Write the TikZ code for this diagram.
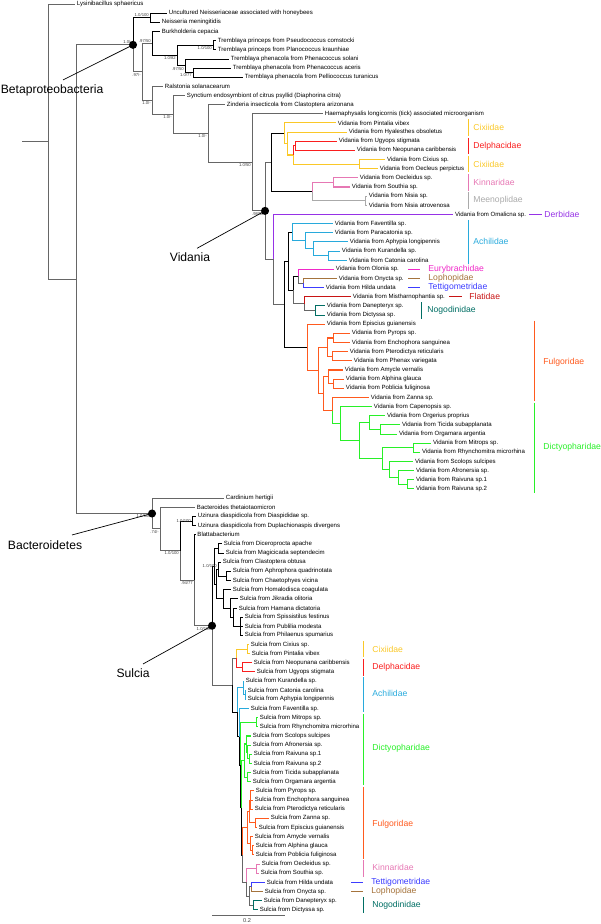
\documentclass[tikz,border=0pt]{standalone}
\usepackage{fontspec}
\setmainfont{Liberation Sans}
\usetikzlibrary{calc,positioning}
\definecolor{cixcol}{RGB}{250,200,40}
\definecolor{delcol}{RGB}{250,30,30}
\definecolor{kincol}{RGB}{230,120,180}
\definecolor{meecol}{RGB}{170,170,170}
\definecolor{dercol}{RGB}{150,50,230}
\definecolor{achcol}{RGB}{40,170,220}
\definecolor{eurcol}{RGB}{240,40,200}
\definecolor{lopcol}{RGB}{165,115,60}
\definecolor{tetcol}{RGB}{60,60,255}
\definecolor{flacol}{RGB}{200,20,20}
\definecolor{nogcol}{RGB}{0,110,100}
\definecolor{fulcol}{RGB}{255,90,30}
\definecolor{diccol}{RGB}{40,240,40}
% clade point: x in px, y half way between the two outer children
\newcommand{\clade}[4]{\path let \p1=(#3), \p2=(#4) in ({#2*0.02cm},{(\y1+\y2)/2}) coordinate (#1);}

\begin{document}
\begin{tikzpicture}[x=0.02cm,y=-0.183cm,
  lf/.style={anchor=west,inner sep=0.9pt,font=\fontsize{3.45}{4}\selectfont},
  sv/.style={font=\fontsize{2.4}{2.8}\selectfont,text=black!75,inner sep=0.5pt},
  fam/.style={anchor=west,inner sep=0pt,font=\fontsize{4.9}{5.5}\selectfont},
  big/.style={inner sep=0pt,font=\fontsize{6.9}{8}\selectfont},
  graybr/.style={draw=black!60,line width=0.55pt},
  blackbr/.style={draw=black,line width=0.4pt},
  cixbr/.style={draw=cixcol,line width=0.6pt},
  delbr/.style={draw=delcol,line width=0.6pt},
  kinbr/.style={draw=kincol,line width=0.6pt},
  meebr/.style={draw=meecol,line width=0.6pt},
  derbr/.style={draw=dercol,line width=0.6pt},
  achbr/.style={draw=achcol,line width=0.6pt},
  eurbr/.style={draw=eurcol,line width=0.6pt},
  lopbr/.style={draw=lopcol,line width=0.6pt},
  tetbr/.style={draw=tetcol,line width=0.6pt},
  flabr/.style={draw=flacol,line width=0.6pt},
  nogbr/.style={draw=nogcol,line width=0.6pt},
  fulbr/.style={draw=fulcol,line width=0.6pt},
  dicbr/.style={draw=diccol,line width=0.6pt}]
\useasboundingbox (0,0.5628) rectangle (600,101.55);

% leaves
\node[lf] (l1) at (75,1) {Lysinibacillus sphaericus};
\node[lf] (l2) at (167,2) {Uncultured Neisseriaceae associated with honeybees};
\node[lf] (l3) at (160,3) {Neisseria meningitidis};
\node[lf] (l4) at (160,4) {Burkholderia cepacia};
\node[lf] (l5) at (216,5) {Tremblaya princeps from Pseudococcus comstocki};
\node[lf] (l6) at (216,6) {Tremblaya princeps from Planococcus kraunhiae};
\node[lf] (l7) at (229,7) {Tremblaya phenacola from Phenacoccus solani};
\node[lf] (l8) at (231,8) {Tremblaya phenacola from Phenacoccus aceris};
\node[lf] (l9) at (243,9) {Tremblaya phenacola from Pelliococcus turanicus};
\node[lf] (l10) at (163,10) {Ralstonia solanacearum};
\node[lf] (l11) at (185,11) {Synctium endosymbiont of citrus psyllid (Diaphorina citra)};
\node[lf] (l12) at (225,12) {Zinderia insecticola from Clastoptera arizonana};
\node[lf] (l13) at (323,13) {Haemaphysalis longicornis (tick) associated microorganism};
\node[lf] (l14) at (336,14) {Vidania from Pintalia vibex};
\node[lf] (l15) at (347,15) {Vidania from Hyalesthes obsoletus};
\node[lf] (l16) at (337,16) {Vidania from Ugyops stigmata};
\node[lf] (l17) at (355,17) {Vidania from Neopunana caribbensis};
\node[lf] (l18) at (385,18) {Vidania from Cixius sp.};
\node[lf] (l19) at (378,19) {Vidania from Oecleus perpictus};
\node[lf] (l20) at (358,20) {Vidania from Oecleidus sp.};
\node[lf] (l21) at (350,21) {Vidania from Southia sp.};
\node[lf] (l22) at (367,22) {Vidania from Nisia sp.};
\node[lf] (l23) at (367,23) {Vidania from Nisia atrovenosa};
\node[lf] (l24) at (453,24) {Vidania from Omalicna sp.};
\node[lf] (l25) at (333,25) {Vidania from Faventilla sp.};
\node[lf] (l26) at (333,26) {Vidania from Paracatonia sp.};
\node[lf] (l27) at (348,27) {Vidania from Aphypia longipennis};
\node[lf] (l28) at (340,28) {Vidania from Kurandella sp.};
\node[lf] (l29) at (347,29) {Vidania from Catonia carolina};
\node[lf] (l30) at (334,30) {Vidania from Olonia sp.};
\node[lf] (l31) at (337,31) {Vidania from Onycta sp.};
\node[lf] (l32) at (324,32) {Vidania from Hilda undata};
\node[lf] (l33) at (351,33) {Vidania from Mistharnophantia sp.};
\node[lf] (l34) at (325,34) {Vidania from Danepteryx sp.};
\node[lf] (l35) at (325,35) {Vidania from Dictyssa sp.};
\node[lf] (l36) at (325,36) {Vidania from Episcius guianensis};
\node[lf] (l37) at (350,37) {Vidania from Pyrops sp.};
\node[lf] (l38) at (350,38) {Vidania from Enchophora sanguinea};
\node[lf] (l39) at (348,39) {Vidania from Pterodictya reticularis};
\node[lf] (l40) at (352,40) {Vidania from Phenax variegata};
\node[lf] (l41) at (343,41) {Vidania from Amycle vernalis};
\node[lf] (l42) at (344,42) {Vidania from Alphina glauca};
\node[lf] (l43) at (344,43) {Vidania from Poblicia fuliginosa};
\node[lf] (l44) at (369,44) {Vidania from Zanna sp.};
\node[lf] (l45) at (372,45) {Vidania from Capenopsis sp.};
\node[lf] (l46) at (385,46) {Vidania from Orgerius proprius};
\node[lf] (l47) at (400,47) {Vidania from Ticida subapplanata};
\node[lf] (l48) at (397,48) {Vidania from Orgamara argentia};
\node[lf] (l49) at (431,49) {Vidania from Mitrops sp.};
\node[lf] (l50) at (420,50) {Vidania from Rhynchomitra microrhina};
\node[lf] (l51) at (413,51) {Vidania from Scolops sulcipes};
\node[lf] (l52) at (414,52) {Vidania from Afronersia sp.};
\node[lf] (l53) at (414,53) {Vidania from Raivuna sp.1};
\node[lf] (l54) at (414,54) {Vidania from Raivuna sp.2};
\node[lf] (l55) at (224,55) {Cardinium hertigii};
\node[lf] (l56) at (195,56) {Bacteroides thetaiotaomicron};
\node[lf] (l57) at (196,57) {Uzinura diaspidicola from Diaspididae sp.};
\node[lf] (l58) at (196,58) {Uzinura diaspidicola from Duplachionaspis divergens};
\node[lf] (l59) at (195.5,59) {Blattabacterium};
\node[lf] (l60) at (222,60) {Sulcia from Diceroprocta apache};
\node[lf] (l61) at (224,61) {Sulcia from Magicicada septendecim};
\node[lf] (l62) at (221,62) {Sulcia from Clastoptera obtusa};
\node[lf] (l63) at (231,63) {Sulcia from Aphrophora quadrinotata};
\node[lf] (l64) at (231,64) {Sulcia from Chaetophyes vicina};
\node[lf] (l65) at (231,65) {Sulcia from Homalodisca coagulata};
\node[lf] (l66) at (238,66) {Sulcia from Jikradia olitoria};
\node[lf] (l67) at (237,67) {Sulcia from Hamana dictatoria};
\node[lf] (l68) at (243,68) {Sulcia from Spissistilus festinus};
\node[lf] (l69) at (243,69) {Sulcia from Publilia modesta};
\node[lf] (l70) at (243,70) {Sulcia from Philaenus spumarius};
\node[lf] (l71) at (249,71) {Sulcia from Cixius sp.};
\node[lf] (l72) at (250,72) {Sulcia from Pintalia vibex};
\node[lf] (l73) at (252,73) {Sulcia from Neopunana caribbensis};
\node[lf] (l74) at (255,74) {Sulcia from Ugyops stigmata};
\node[lf] (l75) at (244,75) {Sulcia from Kurandella sp.};
\node[lf] (l76) at (246,76) {Sulcia from Catonia carolina};
\node[lf] (l77) at (246,77) {Sulcia from Aphypia longipennis};
\node[lf] (l78) at (249,78) {Sulcia from Faventilla sp.};
\node[lf] (l79) at (258,79) {Sulcia from Mitrops sp.};
\node[lf] (l80) at (258,80) {Sulcia from Rhynchomitra microrhina};
\node[lf] (l81) at (251,81) {Sulcia from Scolops sulcipes};
\node[lf] (l82) at (251,82) {Sulcia from Afronersia sp.};
\node[lf] (l83) at (252,83) {Sulcia from Raivuna sp.1};
\node[lf] (l84) at (252,84) {Sulcia from Raivuna sp.2};
\node[lf] (l85) at (251,85) {Sulcia from Ticida subapplanata};
\node[lf] (l86) at (251,86) {Sulcia from Orgamara argentia};
\node[lf] (l87) at (254,87) {Sulcia from Pyrops sp.};
\node[lf] (l88) at (253,88) {Sulcia from Enchophora sanguinea};
\node[lf] (l89) at (253,89) {Sulcia from Pterodictya reticularis};
\node[lf] (l90) at (269,90) {Sulcia from Zanna sp.};
\node[lf] (l91) at (257,91) {Sulcia from Episcius guianensis};
\node[lf] (l92) at (253,92) {Sulcia from Amycle vernalis};
\node[lf] (l93) at (254,93) {Sulcia from Alphina glauca};
\node[lf] (l94) at (254,94) {Sulcia from Poblicia fuliginosa};
\node[lf] (l95) at (260,95) {Sulcia from Oecleidus sp.};
\node[lf] (l96) at (259,96) {Sulcia from Southia sp.};
\node[lf] (l97) at (265,97) {Sulcia from Hilda undata};
\node[lf] (l98) at (263,98) {Sulcia from Onycta sp.};
\node[lf] (l99) at (262,99) {Sulcia from Danepteryx sp.};
\node[lf] (l100) at (258,100) {Sulcia from Dictyssa sp.};

% Betaproteobacteria clades
\clade{neis}{150}{l2}{l3}
\clade{tp}{213}{l5}{l6}
\clade{tphb}{193}{l8}{l9}
\clade{tph}{185}{l7}{tphb}
\clade{trem}{177}{tp}{tph}
\clade{bt}{152}{l4}{trem}
% Vidania clades
\clade{cixo}{359}{l18}{l19}
\clade{delph}{295}{l16}{l17}
\clade{cixc}{293}{delph}{cixo}
\clade{cixb}{287}{l15}{cixc}
\clade{cixa}{284}{l14}{cixb}
\clade{kinn}{333}{l20}{l21}
\clade{meen}{365}{l22}{l23}
\clade{km}{312}{kinn}{meen}
\clade{va}{271}{cixa}{km}
\clade{achd}{328}{l28}{l29}
\clade{achc}{313}{l27}{achd}
\clade{achb}{305}{l26}{achc}
\clade{acha}{292}{l25}{achb}
\clade{lt}{303}{l31}{l32}
\clade{el}{298}{l30}{lt}
\clade{nog}{315}{l34}{l35}
\clade{fn}{304}{l33}{nog}
\clade{ef}{293}{el}{fn}
\clade{pa}{333}{l37}{l38}
\clade{pb}{332}{l39}{l40}
\clade{pc}{327}{pa}{pb}
\clade{ala}{333}{l42}{l43}
\clade{alb}{328}{l41}{ala}
\clade{dm}{413}{l49}{l50}
\clade{ra}{407}{l53}{l54}
\clade{rb}{398}{l52}{ra}
\clade{rc}{389}{l51}{rb}
\clade{mr}{382}{dm}{rc}
\clade{dtb}{380}{l47}{l48}
\clade{dta}{369}{l46}{dtb}
\clade{dc}{359}{dta}{mr}
\clade{dca}{340}{l45}{dc}
\clade{za}{332}{l44}{dca}
\clade{fe}{323}{alb}{za}
\clade{fb}{318}{pc}{fe}
\clade{fd}{307}{l36}{fb}
\clade{uu}{288}{acha}{ef}
\clade{zz}{284}{uu}{fd}
\clade{vb}{273}{l24}{zz}
\clade{vid}{265}{va}{vb}
\clade{nh}{252}{l13}{vid}
\clade{nz}{208}{l12}{nh}
\clade{ns}{173}{l11}{nz}
\clade{rsz}{152}{l10}{ns}
\clade{ca}{142}{bt}{rsz}
\clade{beta}{133}{neis}{ca}
% Bacteroidetes and Sulcia clades
\clade{uz}{192}{l57}{l58}
\clade{cic}{218}{l60}{l61}
\clade{cer}{226}{l63}{l64}
\clade{cerc}{218}{l62}{cer}
\clade{memb}{240}{l68}{l70}
\clade{mb}{233}{l67}{memb}
\clade{mc}{230}{l66}{mb}
\clade{md}{223}{l65}{mc}
\clade{cmb}{216}{cerc}{md}
\clade{cma}{214}{cic}{cmb}
\clade{sc}{247}{l71}{l72}
\clade{sd}{242}{l73}{l74}
\clade{scd}{236}{sc}{sd}
\clade{sab}{245}{l76}{l77}
\clade{sak}{243}{l75}{sab}
\clade{sdm}{256}{l79}{l80}
\clade{sdr}{249}{l83}{l84}
\clade{sda}{247}{l82}{sdr}
\clade{sds}{246}{l81}{sda}
\clade{sdt}{247}{l85}{l86}
\clade{sdst}{244}{sds}{sdt}
\clade{sfp}{250}{l87}{l89}
\clade{sfz}{255}{l90}{l91}
\clade{sfb}{249}{sfp}{sfz}
\clade{sfa}{252}{l93}{l94}
\clade{sfm}{250}{l92}{sfa}
\clade{sf}{247}{sfb}{sfm}
\clade{skn}{256}{l95}{l96}
\clade{stl}{251}{l97}{l98}
\clade{snog}{253}{l99}{l100}
\clade{stn}{249}{stl}{snog}
\clade{skt}{246}{skn}{stn}
\clade{sw}{242.5}{sf}{skt}
\clade{sx}{241.5}{sdst}{sw}
\clade{su}{240.5}{sdm}{sx}
\clade{st}{239}{l78}{su}
\clade{ss}{237}{sak}{st}
\clade{sfu}{232}{scd}{ss}
\clade{sul}{212}{cma}{sfu}
\clade{bd}{194}{l59}{sul}
\clade{bc}{180}{uz}{bd}
\clade{bb}{160}{l56}{bc}
\clade{bact}{152}{l55}{bb}
\clade{nb}{76}{beta}{bact}
\clade{na}{48}{l1}{nb}
\coordinate (root) at ($(na)+(-26,0)$);

% branches, top part
\draw[graybr] (root) -- (na) (na) |- (l1.west) (na) |- (nb) (nb) |- (beta) (nb) |- (bact);
\draw[blackbr] (beta) |- (neis) (neis) |- (l2.west) (neis) |- (l3.west);
\draw[graybr] (beta) |- (ca) (ca) |- (bt) (ca) |- (rsz);
\draw[blackbr] (bt) |- (l4.west) (bt) |- (trem) (trem) |- (tp) (trem) |- (tph)
  (tp) |- (l5.west) (tp) |- (l6.west) (tph) |- (l7.west) (tph) |- (tphb)
  (tphb) |- (l8.west) (tphb) |- (l9.west);
\draw[graybr] (rsz) |- (l10.west) (rsz) |- (ns) (ns) |- (l11.west) (ns) |- (nz)
  (nz) |- (l12.west) (nz) |- (nh) (nh) |- (l13.west) (nh) |- (vid)
  (vid) |- (va) (vid) |- (vb) (vb) |- (zz);
\draw[blackbr] (va) |- (cixa) (va) |- (km);
\draw[cixbr] (cixa) |- (l14.west) (cixa) |- (cixb) (cixb) |- (l15.west) (cixb) |- (cixc)
  (cixc) |- (cixo) (cixo) |- (l18.west) (cixo) |- (l19.west);
\draw[delbr] (cixc) |- (delph) (delph) |- (l16.west) (delph) |- (l17.west);
\draw[kinbr] (km) |- (kinn) (kinn) |- (l20.west) (kinn) |- (l21.west);
\draw[meebr] (km) |- (meen) (meen) |- (l22.west) (meen) |- (l23.west);
\draw[derbr] (vb) |- (l24.west);
\draw[blackbr] (zz) |- (uu) (zz) |- (fd) (uu) |- (acha) (uu) |- (ef) (ef) |- (el);
\draw[achbr] (acha) |- (l25.west) (acha) |- (achb) (achb) |- (l26.west) (achb) |- (achc)
  (achc) |- (l27.west) (achc) |- (achd) (achd) |- (l28.west) (achd) |- (l29.west);
\draw[eurbr] (el) |- (l30.west);
\draw[graybr] (el) |- (lt) (ef) |- (fn) (fn) |- (nog);
\draw[lopbr] (lt) |- (l31.west);
\draw[tetbr] (lt) |- (l32.west);
\draw[flabr] (fn) |- (l33.west);
\draw[nogbr] (nog) |- (l34.west) (nog) |- (l35.west);
\draw[fulbr] (fd) |- (l36.west) (fd) |- (fb) (fb) |- (pc) (fb) |- (fe)
  (pc) |- (pa) (pc) |- (pb) (pa) |- (l37.west) (pa) |- (l38.west)
  (pb) |- (l39.west) (pb) |- (l40.west) (fe) |- (alb) (fe) |- (za)
  (alb) |- (l41.west) (alb) |- (ala) (ala) |- (l42.west) (ala) |- (l43.west)
  (za) |- (l44.west);
\draw[dicbr] (za) |- (dca) (dca) |- (l45.west) (dca) |- (dc) (dc) |- (dta) (dc) |- (mr)
  (dta) |- (l46.west) (dta) |- (dtb) (dtb) |- (l47.west) (dtb) |- (l48.west)
  (mr) |- (dm) (mr) |- (rc) (dm) |- (l49.west) (dm) |- (l50.west)
  (rc) |- (l51.west) (rc) |- (rb) (rb) |- (l52.west) (rb) |- (ra)
  (ra) |- (l53.west) (ra) |- (l54.west);

% branches, Bacteroidetes
\draw[graybr] (bact) |- (l55.west) (bact) |- (bb) (bb) |- (l56.west) (bb) |- (bc)
  (bc) |- (bd) (bd) |- (sul) (sul) |- (sfu) (sfu) |- (scd);
\draw[blackbr] (bc) |- (uz) (uz) |- (l57.west) (uz) |- (l58.west) (bd) |- (l59.west)
  (sul) |- (cma) (cma) |- (cic) (cma) |- (cmb) (cic) |- (l60.west) (cic) |- (l61.west)
  (cmb) |- (cerc) (cmb) |- (md) (cerc) |- (l62.west) (cerc) |- (cer)
  (cer) |- (l63.west) (cer) |- (l64.west) (md) |- (l65.west) (md) |- (mc)
  (mc) |- (l66.west) (mc) |- (mb) (mb) |- (l67.west) (mb) |- (memb)
  (memb) |- (l68.west) (memb) |- (l69.west) (memb) |- (l70.west)
  (sfu) |- (ss) (ss) |- (st) (st) |- (su) (su) |- (sx) (sx) |- (sw);
\draw[cixbr] (scd) |- (sc) (sc) |- (l71.west) (sc) |- (l72.west);
\draw[delbr] (scd) |- (sd) (sd) |- (l73.west) (sd) |- (l74.west);
\draw[achbr] (ss) |- (sak) (st) |- (l78.west) (sak) |- (l75.west) (sak) |- (sab)
  (sab) |- (l76.west) (sab) |- (l77.west);
\draw[dicbr] (su) |- (sdm) (sx) |- (sdst) (sdm) |- (l79.west) (sdm) |- (l80.west)
  (sdst) |- (sds) (sdst) |- (sdt) (sds) |- (l81.west) (sds) |- (sda)
  (sda) |- (l82.west) (sda) |- (sdr) (sdr) |- (l83.west) (sdr) |- (l84.west)
  (sdt) |- (l85.west) (sdt) |- (l86.west);
\draw[fulbr] (sw) |- (sf) (sf) |- (sfb) (sf) |- (sfm) (sfb) |- (sfp) (sfb) |- (sfz)
  (sfp) |- (l87.west) (sfp) |- (l88.west) (sfp) |- (l89.west)
  (sfz) |- (l90.west) (sfz) |- (l91.west) (sfm) |- (l92.west) (sfm) |- (sfa)
  (sfa) |- (l93.west) (sfa) |- (l94.west);
\draw[kinbr] (skt) |- (skn) (skn) |- (l95.west) (skn) |- (l96.west);
\draw[graybr] (sw) |- (skt) (skt) |- (stn) (stn) |- (stl) (stn) |- (snog);
\draw[tetbr] (stl) |- (l97.west);
\draw[lopbr] (stl) |- (l98.west);
\draw[nogbr] (snog) |- (l99.west) (snog) |- (l100.west);

% support values
\node[sv,above left] at (beta) {1.0/-};
\node[sv,above left] at (neis) {1.0/100};
\node[sv,above left] at (bt) {.97/50};
\node[sv,below left] at (ca) {.97/-};
\node[sv,below left] at (tp) {1.0/100};
\node[sv,below left] at (trem) {1.0/82};
\node[sv,below left] at (tph) {.97/50};
\node[sv,below left] at (tphb) {1.0/77};
\node[sv,below left] at (rsz) {1.0/-};
\node[sv,below left] at (ns) {1.0/-};
\node[sv,below left] at (nz) {1.0/-};
\node[sv,below left] at (nh) {1.0/50};
\node[sv,below left] at (vid) {.98/50};
\node[sv,below left] at (bact) {1.0/100};
\node[sv,below left] at (bb) {.74/-};
\node[sv,left] at (uz) {1.0/100};
\node[sv,below left] at (bc) {1.0/100};
\node[sv,below left] at (bd) {.94/77};
\node[sv,above left] at (cerc) {1.0/100};
\node[sv,below left] at (sul) {1.0/100};

% clade dots and names
\fill (beta) circle (2.3pt);
\fill (vid) circle (2.3pt);
\fill (bact) circle (2.3pt);
\fill (sul) circle (2.3pt);
\node[big,anchor=west] (betalab) at (0.5,10.4) {Betaproteobacteria};
\node[big] (vidlab) at (190,28.65) {Vidania};
\node[big] (bactlab) at (45,60.1) {Bacteroidetes};
\node[big] (sullab) at (133,74.1) {Sulcia};
\coordinate (betaend) at (63,9.3);
\coordinate (vidend) at (197,27.7);
\coordinate (bactend) at (72,59.03);
\coordinate (sulend) at (143,73.13);
\draw[blackbr] (betaend) -- (beta);
\draw[blackbr] (vidend) -- (vid);
\draw[blackbr] (bactend) -- (bact);
\draw[blackbr] (sulend) -- (sul);

% families, Vidania
\draw[cixbr] (468,13.6) -- (468,15.4);
\node[fam,text=cixcol] (vcixa) at (473,14.5) {Cixiidae};
\draw[delbr] (468,15.6) -- (468,17.4);
\node[fam,text=delcol] (vdel) at (473,16.5) {Delphacidae};
\draw[cixbr] (468,17.6) -- (468,19.4);
\node[fam,text=cixcol] (vcixb) at (473,18.5) {Cixiidae};
\draw[kinbr] (468,19.6) -- (468,21.4);
\node[fam,text=kincol] (vkin) at (473,20.5) {Kinnaridae};
\draw[meebr] (468,21.6) -- (468,23.4);
\node[fam,text=meecol] (vmee) at (473,22.5) {Meenoplidae};
\draw[derbr] (529,24) -- (542,24);
\node[fam,text=dercol] (vder) at (544,24) {Derbidae};
\draw[achbr] (468,24.6) -- (468,29.4);
\node[fam,text=achcol] (vach) at (473,27) {Achilidae};
\draw[eurbr] (408,30) -- (420,30);
\node[fam,text=eurcol] (veur) at (428,30) {Eurybrachidae};
\draw[lopbr] (408,31) -- (420,31);
\node[fam,text=lopcol] (vlop) at (428,31) {Lophopidae};
\draw[tetbr] (408,32) -- (420,32);
\node[fam,text=tetcol] (vtet) at (428,32) {Tettigometridae};
\draw[flabr] (449,33) -- (462,33);
\node[fam,text=flacol] (vfla) at (469,33) {Flatidae};
\draw[nogbr] (421,33.6) -- (421,35.4);
\node[fam,text=nogcol] (vnog) at (427,34.5) {Nogodinidae};
\draw[fulbr] (534,35.6) -- (534,44.4);
\node[fam,text=fulcol] (vful) at (543,40.2) {Fulgoridae};
\draw[dicbr] (534,44.6) -- (534,54.4);
\node[fam,text=diccol] (vdic) at (543,49.4) {Dictyopharidae};

% families, Sulcia
\draw[cixbr] (363,70.6) -- (363,72.4);
\node[fam,text=cixcol] (scix) at (372,71.5) {Cixiidae};
\draw[delbr] (363,72.6) -- (363,74.4);
\node[fam,text=delcol] (sdel) at (372,73.5) {Delphacidae};
\draw[achbr] (363,74.6) -- (363,78.4);
\node[fam,text=achcol] (sach) at (372,76.4) {Achilidae};
\draw[dicbr] (363,78.6) -- (363,86.4);
\node[fam,text=diccol] (sdic) at (372,82.3) {Dictyopharidae};
\draw[fulbr] (363,86.6) -- (363,94.4);
\node[fam,text=fulcol] (sful) at (372,90.6) {Fulgoridae};
\draw[kinbr] (363,94.6) -- (363,96.4);
\node[fam,text=kincol] (skin) at (372,95.4) {Kinnaridae};
\draw[tetbr] (351,97) -- (363,97);
\node[fam,text=tetcol] (stet) at (371,97) {Tettigometridae};
\draw[lopbr] (351,98) -- (363,98);
\node[fam,text=lopcol] (slop) at (371,98) {Lophopidae};
\draw[nogbr] (363,98.6) -- (363,100.4);
\node[fam,text=nogcol] (snogl) at (372,99.5) {Nogodinidae};

% scale bar
\coordinate (sbl) at (212,100.57);
\coordinate (sbr) at (285,100.57);
\draw[graybr] (sbl) -- (sbr);
\node[sv,font=\fontsize{3.2}{3.6}\selectfont] (sbt) at (247,101.15) {0.2};
\end{tikzpicture}
\end{document}
